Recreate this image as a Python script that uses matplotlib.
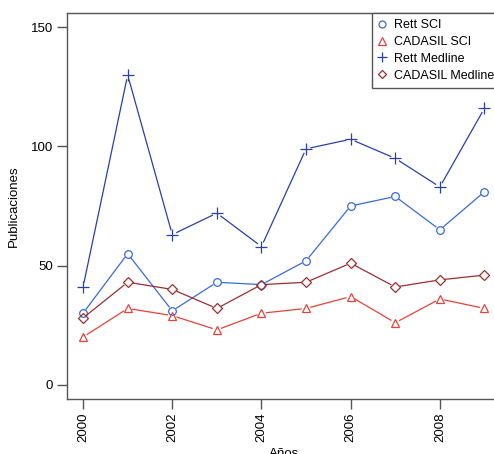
import matplotlib
matplotlib.use('Agg')
import matplotlib.pyplot as plt
import numpy as np

# Datos
anios = [2000, 2001, 2002, 2003, 2004, 2005, 2006, 2007, 2008, 2009]
rett_sci = [30, 55, 31, 43, 42, 52, 75, 79, 65, 81]
cadasil_sci = [20, 32, 29, 23, 30, 32, 37, 26, 36, 32]
rett_medline = [41, 130, 63, 72, 58, 99, 103, 95, 83, 116]
cadasil_medline = [28, 43, 40, 32, 42, 43, 51, 41, 44, 46]

plt.rcParams['font.family'] = ['Liberation Sans', 'DejaVu Sans']

fig = plt.figure(figsize=(4.94, 4.54), dpi=100)
# el panel se sale por la derecha, como en la imagen original recortada
ax = fig.add_axes([67 / 494, 55 / 454, 433.5 / 494, 386 / 454])
ax.set_xlim(1999.64, 2009.36)
ax.set_ylim(-6, 156)

series = [
    (rett_sci, 'Rett SCI', '#3a6ad6', 'o', 5.5),
    (cadasil_sci, 'CADASIL SCI', '#e8413a', '^', 6),
    (rett_medline, 'Rett Medline', '#2a3fa8', '+', 8),
    (cadasil_medline, 'CADASIL Medline', '#9b2f2f', 'D', 5),
]

# estilo type="b" de R: segmentos con hueco alrededor de cada punto
hueco = 5.0
trans = ax.transData
inv = trans.inverted()
handles = []
for vals, nombre, col, mk, ms in series:
    pts = trans.transform(np.column_stack([anios, vals]))
    for p0, p1 in zip(pts[:-1], pts[1:]):
        d = p1 - p0
        dist = np.hypot(*d)
        if dist <= 2 * hueco:
            continue
        u = d / dist
        a = inv.transform(p0 + u * hueco)
        b = inv.transform(p1 - u * hueco)
        ax.plot([a[0], b[0]], [a[1], b[1]], color=col, lw=0.9)
    ax.plot(anios, vals, ls='none', marker=mk, ms=ms, mfc='none', mec=col, mew=0.9)
    h, = ax.plot([], [], ls='none', marker=mk, ms=ms - 0.5, mfc='none', mec=col, mew=0.9,
                 label=nombre)
    handles.append(h)

ax.set_xticks([2000, 2002, 2004, 2006, 2008])
ax.set_yticks([0, 50, 100, 150])
ax.tick_params(axis='x', rotation=90, length=7, width=1, color='#555555',
               labelsize=9.5, pad=3)
ax.tick_params(axis='y', length=7, width=1, color='#555555', labelsize=9.5, pad=3)
for s in ax.spines.values():
    s.set_color('#555555')
    s.set_linewidth(1)

ax.set_ylabel('Publicaciones', fontsize=9.5, labelpad=8)
ax.set_xlabel('Años', fontsize=9.5, labelpad=4)

leg = ax.legend(handles=handles, loc='upper left', bbox_to_anchor=(305 / 433.5, 1),
                borderaxespad=0, fancybox=False, framealpha=1, edgecolor='#555555',
                fontsize=9, handlelength=0.65, handletextpad=0.6, labelspacing=0.38,
                borderpad=0.5)
leg.get_frame().set_linewidth(1)

fig.savefig('out.png', dpi=100)
